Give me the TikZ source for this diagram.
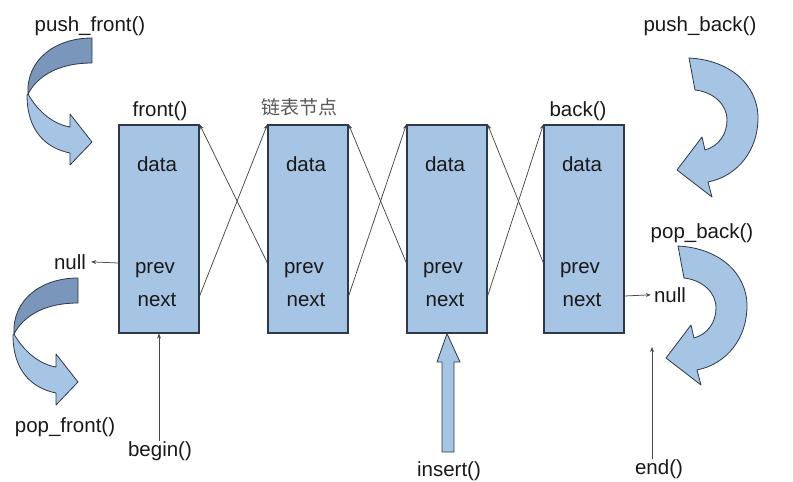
\documentclass[tikz,border=0pt]{standalone}
\usepackage{fontspec}
\setmainfont{Liberation Sans}
\newfontfamily\cjk{Noto Sans CJK SC}
\usetikzlibrary{arrows.meta}
\definecolor{cellblue}{RGB}{166,196,228}
\definecolor{ribbondark}{RGB}{122,150,186}
\definecolor{edgegray}{RGB}{45,56,72}

\begin{document}
\begin{tikzpicture}[x=1pt,y=-1pt,>={Stealth[length=5pt,width=4pt]},
  cell/.style={draw=edgegray,line width=1.2pt,fill=cellblue,
    minimum width=80pt,minimum height=208pt,inner sep=0pt},
  txt/.style={anchor=base,inner sep=0pt,text=black!90,
    font=\fontsize{20.5}{24}\selectfont},
  link/.style={->,draw=black!72,line width=0.75pt},
  ribbon/.style={fill=cellblue,draw=edgegray,line width=0.8pt,line join=round}]
\useasboundingbox (0,0) rectangle (793,482);
% ---------- 四个节点 ----------
\foreach \n/\x in {1/159,2/308,3/447,4/584}{
  \node[cell] (n\n) at (\x,229) {};
  \node[txt] (d\n) at (\x-2,171) {data};
  \node[txt] (p\n) at (\x-4,273) {prev};
  \node[txt] (x\n) at (\x-2,306) {next};
}
% 交叉的 prev / next 指针
\foreach \a/\b in {1/2,2/3,3/4}{
  \draw[link] (n\a.east |- 0,296) -- (n\b.north west);
  \draw[link] (n\b.west |- 0,263) -- (n\a.north east);
}
% 标签
\node[txt] (front) at (160,116) {front()};
\node[txt,text=black!65] (title) at (299,114) {\cjk\fontsize{19}{22}\selectfont 链表节点};
\node[txt] (back) at (578,116) {back()};
% null 指针
\node[txt] (nullL) at (70,269) {null};
\node[txt] (nullR) at (670,302) {null};
\draw[link,shorten >=5pt] (n1.west |- 0,263) -- (nullL.east);
\draw[link,shorten >=3pt] (n4.east |- 0,296) -- (nullR.west);
% 迭代器
\node[txt] (begin) at (160,456) {begin()};
\node[txt] (insert) at (449,476) {insert()};
\node[txt] (end) at (659,474) {end()};
\coordinate (endtip) at (652,347);
\draw[link] (begin.north -| n1.south) -- (n1.south);
\draw[link] (end.north -| endtip) -- (endtip);
% insert 粗箭头
\filldraw[ribbon] (442,452) -- (442,362) -- (437,362) -- (n3.south)
  -- (460,362) -- (454,362) -- (454,452) -- cycle;
% ---------- 左侧弯箭头 ----------
\node[txt] (pushf) at (90,31) {push\_front()};
\node[txt] (popf) at (65,432) {pop\_front()};
\foreach \sx/\sy in {0/0,-14/240}{
\begin{scope}[shift={(\sx,\sy)}]
  \filldraw[ribbon] (28,94) .. controls (37,110) and (52,124) .. (70,127)
    -- (70,114) -- (92,142) -- (70,165) -- (70,153)
    .. controls (45,148) and (27,130) .. (27,95) -- cycle;
  \filldraw[ribbon,fill=ribbondark] (92,38) -- (92,63)
    .. controls (60,63) and (38,75) .. (28,94)
    .. controls (26,60) and (55,38) .. (92,38) -- cycle;
\end{scope}
}
% ---------- 右侧弯箭头 ----------
\node[txt] (pushb) at (700,31) {push\_back()};
\node[txt] (popb) at (702,238) {pop\_back()};
\foreach \sx/\sy in {0/0,-11/188}{
\begin{scope}[shift={(\sx,\sy)}]
  \filldraw[ribbon] (689,58) .. controls (730,60) and (758,85) .. (758,118)
    .. controls (758,150) and (738,176) .. (708,182)
    -- (712,197) -- (677,170) -- (702,137) -- (705,150)
    .. controls (719,146) and (727,134) .. (727,120)
    .. controls (727,104) and (713,92) .. (695,90) -- cycle;
\end{scope}
}
\end{tikzpicture}
\end{document}
